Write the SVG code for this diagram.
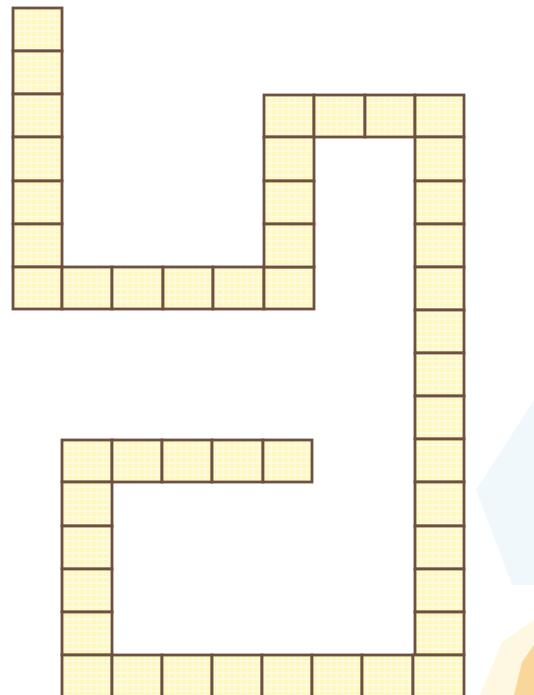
<svg xmlns="http://www.w3.org/2000/svg" width="534" height="695" viewBox="0 0 534 695">
<defs>
<pattern id="g" width="6" height="6" patternUnits="userSpaceOnUse">
<rect width="6" height="6" fill="#fcf8c0"/>
<rect x="0" y="0" width="6" height="2" fill="#fefbe2" opacity="0.8"/>
<rect x="0" y="0" width="2" height="6" fill="#fefbe2" opacity="0.6"/>
</pattern>
<style>.c{fill:url(#g);stroke:#6e5040;stroke-width:2.8}</style>
</defs>
<rect width="534" height="695" fill="#ffffff"/>
<polygon points="534,400 476,490 512,585 534,585" fill="#f1f8fc"/>
<polygon points="534,620 502,642 480,695 534,695" fill="#fef7e2"/>
<polygon points="534,645 522,662 514,695 534,695" fill="#f9d79a"/>
<g id="board">
<!-- upper left column -->
<rect class="c" x="13" y="8" width="49" height="43"/>
<rect class="c" x="13" y="51" width="49" height="43"/>
<rect class="c" x="13" y="94" width="49" height="43"/>
<rect class="c" x="13" y="137" width="49" height="44"/>
<rect class="c" x="13" y="181" width="49" height="43"/>
<rect class="c" x="13" y="224" width="49" height="43"/>
<!-- upper bottom row -->
<rect class="c" x="13" y="267" width="49" height="42"/>
<rect class="c" x="62" y="267" width="50" height="42"/>
<rect class="c" x="112" y="267" width="51" height="42"/>
<rect class="c" x="163" y="267" width="50" height="42"/>
<rect class="c" x="213" y="267" width="51" height="42"/>
<rect class="c" x="264" y="267" width="50" height="42"/>
<!-- middle column -->
<rect class="c" x="264" y="95" width="50" height="42"/>
<rect class="c" x="264" y="137" width="50" height="44"/>
<rect class="c" x="264" y="181" width="50" height="43"/>
<rect class="c" x="264" y="224" width="50" height="43"/>
<!-- top row -->
<rect class="c" x="314" y="95" width="51" height="42"/>
<rect class="c" x="365" y="95" width="50" height="42"/>
<rect class="c" x="415" y="95" width="49" height="42"/>
<!-- right column -->
<rect class="c" x="415" y="137" width="49" height="44"/>
<rect class="c" x="415" y="181" width="49" height="43"/>
<rect class="c" x="415" y="224" width="49" height="43"/>
<rect class="c" x="415" y="267" width="49" height="43"/>
<rect class="c" x="415" y="310" width="49" height="43"/>
<rect class="c" x="415" y="353" width="49" height="43"/>
<rect class="c" x="415" y="396" width="49" height="43"/>
<rect class="c" x="415" y="439" width="49" height="43"/>
<rect class="c" x="415" y="482" width="49" height="44"/>
<rect class="c" x="415" y="526" width="49" height="43"/>
<rect class="c" x="415" y="569" width="49" height="43"/>
<rect class="c" x="415" y="612" width="49" height="43"/>
<!-- lower top row -->
<rect class="c" x="62" y="440" width="50" height="42"/>
<rect class="c" x="112" y="440" width="50" height="42"/>
<rect class="c" x="162" y="440" width="50" height="42"/>
<rect class="c" x="212" y="440" width="51" height="42"/>
<rect class="c" x="263" y="440" width="49" height="42"/>
<!-- lower left column -->
<rect class="c" x="62" y="482" width="50" height="44"/>
<rect class="c" x="62" y="526" width="50" height="43"/>
<rect class="c" x="62" y="569" width="50" height="43"/>
<rect class="c" x="62" y="612" width="50" height="43"/>
<!-- bottom row -->
<rect class="c" x="62" y="655" width="50" height="44"/>
<rect class="c" x="112" y="655" width="50" height="44"/>
<rect class="c" x="162" y="655" width="50" height="44"/>
<rect class="c" x="212" y="655" width="50" height="44"/>
<rect class="c" x="262" y="655" width="50" height="44"/>
<rect class="c" x="312" y="655" width="50" height="44"/>
<rect class="c" x="362" y="655" width="51" height="44"/>
<rect class="c" x="413" y="655" width="51" height="44"/>
</g>
</svg>
